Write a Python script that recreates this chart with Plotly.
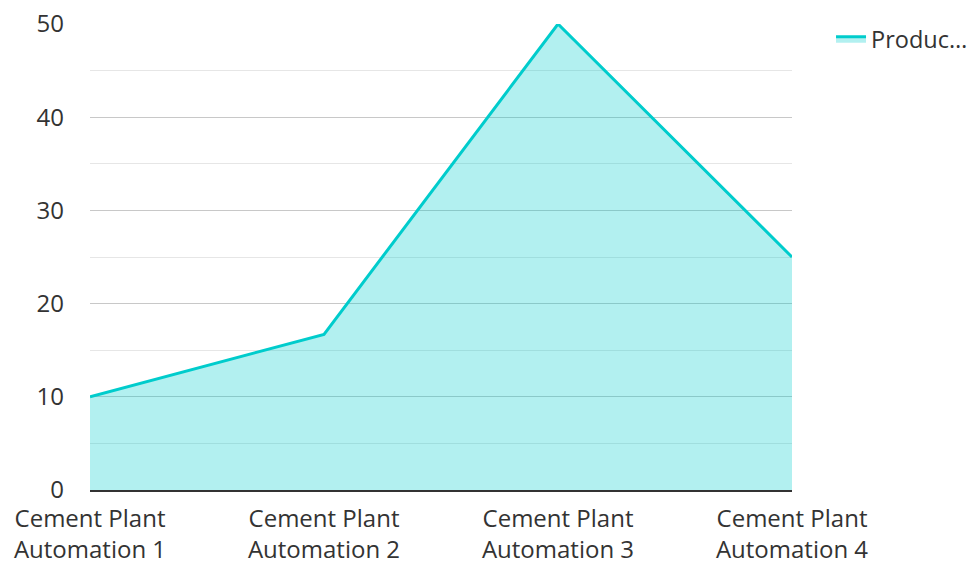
import plotly.graph_objects as go

categories = ["Cement Plant<br>Automation 1", "Cement Plant<br>Automation 2",
              "Cement Plant<br>Automation 3", "Cement Plant<br>Automation 4"]
values = [10, 16.7, 50, 25]
series_name = "Produc…"
y_ticks = [0, 10, 20, 30, 40, 50]

fig = go.Figure()
fig.add_trace(go.Scatter(
    x=list(range(len(categories))), y=values, name=series_name,
    mode="lines", fill="tozeroy",
    line=dict(color="#00cccc", width=3),
    fillcolor="rgba(0,204,204,0.3)",
    showlegend=True,
))

fig.update_layout(
    width=971, height=554,
    margin=dict(l=82, r=187, t=16, b=72),
    paper_bgcolor="white", plot_bgcolor="white",
    font=dict(family="Open Sans", size=24, color="#333"),
    showlegend=True,
    legend=dict(xref="container", yref="container",
                x=0.8476, y=0.984, xanchor="left", yanchor="top",
                font=dict(size=23.5, color="#333")),
    xaxis=dict(
        tickvals=list(range(len(categories))), ticktext=categories,
        range=[0, len(categories) - 1],
        showgrid=False, zeroline=False, automargin=False,
        showline=True, linecolor="#333", linewidth=2,
        ticks="", ticklabelstandoff=6, ticklabeloverflow="allow",
    ),
    yaxis=dict(
        range=[0, 50], tickvals=y_ticks, automargin=False,
        showgrid=True, gridcolor="#c8c8c8", gridwidth=1,
        minor=dict(dtick=5, showgrid=True, gridcolor="#e6e6e6", gridwidth=1),
        zeroline=False, showline=False, ticks="",
        ticklabelstandoff=25, ticklabeloverflow="allow",
    ),
)

fig.write_html("out.html")
